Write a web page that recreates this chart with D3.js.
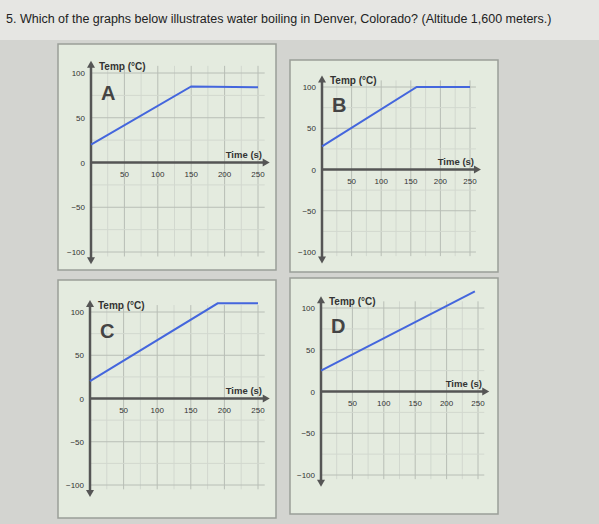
<!DOCTYPE html>
<html><head><meta charset="utf-8">
<script src="https://cdn.jsdelivr.net/npm/d3@7"></script>
<style>body{margin:0;background:#cfd0cc;}svg{display:block;font-family:"Liberation Sans",Arial,sans-serif;}</style>
</head><body>
<svg id="chart" width="599" height="524"></svg>
<script>
// data
const labels = ["A", "B", "C", "D"];
const timeA = [0, 150, 250], tempA = [20, 85, 84];
const timeB = [0, 160, 250], tempB = [28, 100, 100];
const timeC = [0, 190, 250], tempC = [20, 110, 110];
const timeD = [0, 245], tempD = [25, 120];
const xTicks = [50, 100, 150, 200, 250];
const yTicks = [100, 50, 0, -50, -100];

const series = [[timeA, tempA], [timeB, tempB], [timeC, tempC], [timeD, tempD]];
// panel boxes and plot area inside each
const panels = [
  {box: [58, 44, 218, 226], x0: 91, x1: 258, yTop: 73, yBot: 252},
  {box: [290, 60, 208, 212], x0: 322, x1: 470, yTop: 87, yBot: 252},
  {box: [58, 280, 218, 238], x0: 90, x1: 258, yTop: 312, yBot: 485},
  {box: [290, 278, 208, 236], x0: 321, x1: 478, yTop: 308, yBot: 475}
];

const svg = d3.select("#chart");
svg.append("rect").attr("width", 599).attr("height", 524).attr("fill", "#d3d4d0");
svg.append("rect").attr("x", 0).attr("y", 0).attr("width", 599).attr("height", 40).attr("fill", "#e6e6e3");
svg.append("text").attr("x", 6).attr("y", 23).attr("font-size", 12.5).attr("fill", "#222")
  .text("5. Which of the graphs below illustrates water boiling in Denver, Colorado? (Altitude 1,600 meters.)");

panels.forEach((p, i) => {
  const g = svg.append("g");
  const [bx, by, bw, bh] = p.box;
  g.append("rect").attr("x", bx).attr("y", by).attr("width", bw).attr("height", bh)
    .attr("fill", "#e4ebdf").attr("stroke", "#9a9e98").attr("stroke-width", 1.5);
  const x = d3.scaleLinear().domain([0, 250]).range([p.x0, p.x1]);
  const y = d3.scaleLinear().domain([-100, 100]).range([p.yBot, p.yTop]);
  const xEnd = x(260), yTop = y(108);
  // grid
  g.append("g").selectAll("line").data(d3.range(25, 275, 25)).join("line")
    .attr("x1", d => x(d)).attr("x2", d => x(d)).attr("y1", y(108)).attr("y2", y(-105))
    .attr("stroke", d => d % 50 ? "#d2d8cf" : "#b8beb6").attr("stroke-width", 1);
  g.append("g").selectAll("line").data(d3.range(-100, 125, 25)).join("line")
    .attr("x1", x(0)).attr("x2", xEnd).attr("y1", d => y(d)).attr("y2", d => y(d))
    .attr("stroke", d => d % 50 ? "#d2d8cf" : "#b8beb6").attr("stroke-width", 1);
  // axes
  const ax = "#555";
  g.append("line").attr("x1", x(0)).attr("x2", xEnd).attr("y1", y(0)).attr("y2", y(0)).attr("stroke", ax).attr("stroke-width", 2.5);
  g.append("line").attr("x1", x(0)).attr("x2", x(0)).attr("y1", yTop).attr("y2", y(-108)).attr("stroke", ax).attr("stroke-width", 2.5);
  g.append("path").attr("d", `M${xEnd+5},${y(0)}l-7,-4v8z`).attr("fill", ax);
  g.append("path").attr("d", `M${x(0)},${yTop-5}l-4,7h8z`).attr("fill", ax);
  g.append("path").attr("d", `M${x(0)},${y(-108)+5}l-4,-7h8z`).attr("fill", ax);
  g.selectAll(".xt").data(xTicks).join("text").attr("x", d => x(d)).attr("y", y(0) + 14)
    .attr("text-anchor", "middle").attr("font-size", 8).attr("fill", "#333").text(d => d);
  g.selectAll(".yt").data(yTicks).join("text").attr("x", x(0) - 6).attr("y", d => y(d) + 3)
    .attr("text-anchor", "end").attr("font-size", 8).attr("fill", "#333").text(d => d === 0 ? "0" : d < 0 ? "\u2212" + (-d) : d);
  g.append("text").attr("x", x(0) + 8).attr("y", yTop + 4).attr("font-size", 10).attr("font-weight", "bold").attr("fill", "#333").text("Temp (\u00b0C)");
  g.append("text").attr("x", x(250) + 4).attr("y", y(0) - 5).attr("text-anchor", "end").attr("font-size", 9.5).attr("font-weight", "bold").attr("fill", "#333").text("Time (s)");
  g.append("text").attr("x", x(0) + 10).attr("y", y(70)).attr("font-size", 20).attr("font-weight", "bold").attr("fill", "#444").text(labels[i]);
  const [tx, ty] = series[i];
  g.append("path").datum(tx.map((t, k) => [t, ty[k]]))
    .attr("d", d3.line().x(d => x(d[0])).y(d => y(d[1])))
    .attr("fill", "none").attr("stroke", "#4466dd").attr("stroke-width", 2);
});
</script>
</body></html>
